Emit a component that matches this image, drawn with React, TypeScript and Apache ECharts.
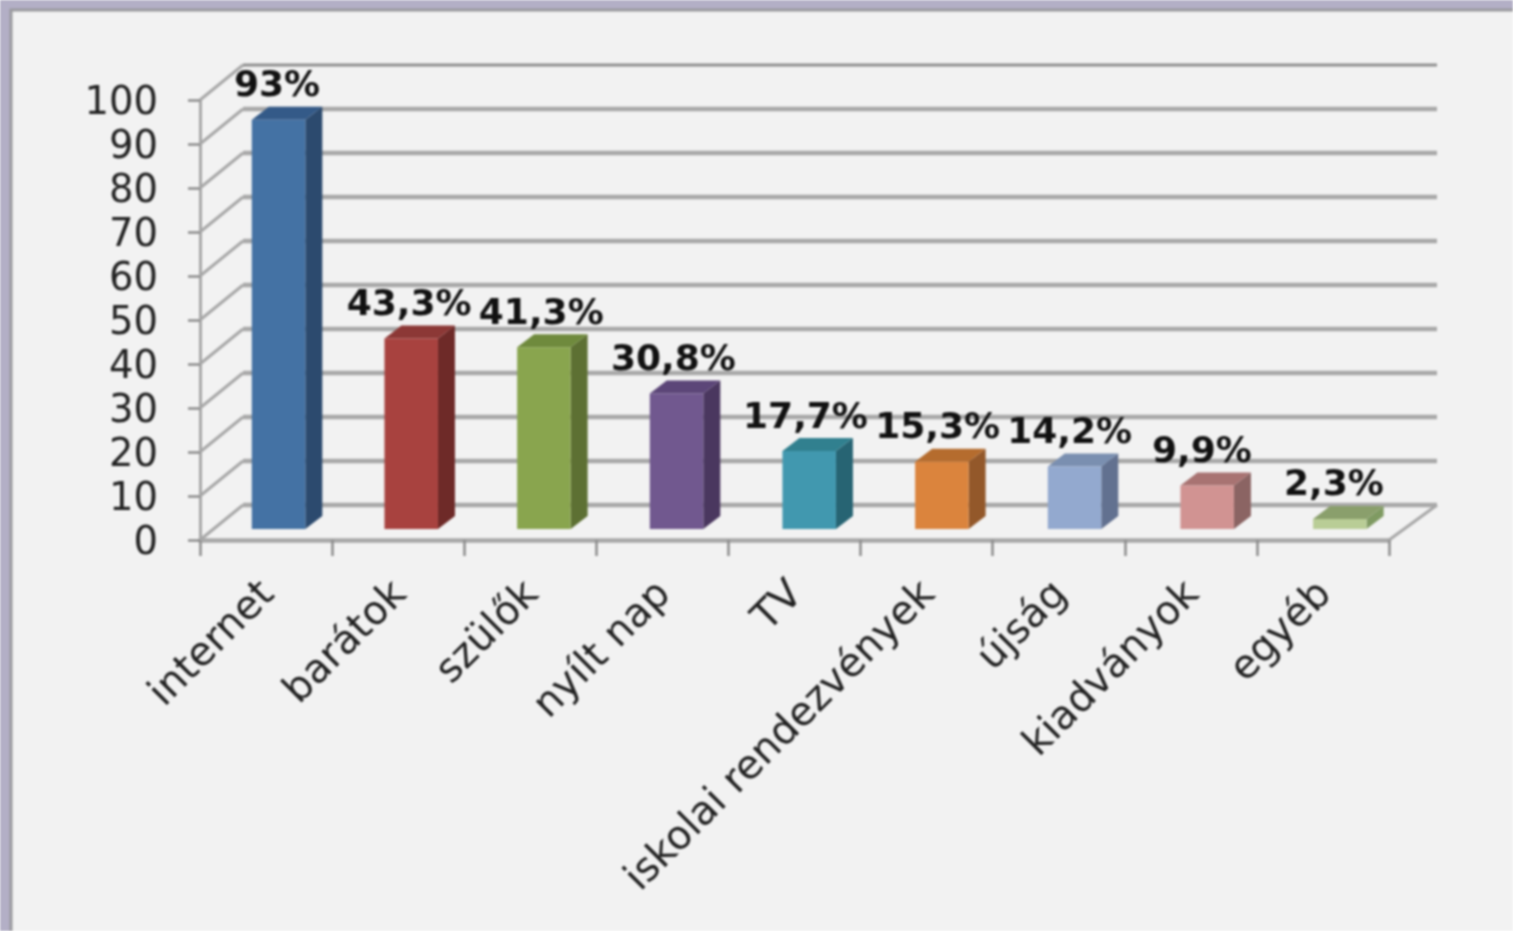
import React, { useEffect, useRef } from "react";
import * as echarts from "echarts";

const categories = ["internet", "barátok", "szülők", "nyílt nap", "TV", "iskolai rendezvények", "újság", "kiadványok", "egyéb"];
const values = [93, 43.3, 41.3, 30.8, 17.7, 15.3, 14.2, 9.9, 2.3];
const valueLabels = ["93%", "43,3%", "41,3%", "30,8%", "17,7%", "15,3%", "14,2%", "9,9%", "2,3%"];
const yTicks = [0, 10, 20, 30, 40, 50, 60, 70, 80, 90, 100];

const frontColors = ["#4472a4", "#a8423f", "#89a54e", "#71588f", "#4198af", "#db843d", "#93a9cf", "#d19392", "#b9cd96"];
const sideColors = ["#2c4a6e", "#6e2a28", "#5d7033", "#4a375f", "#276473", "#93582a", "#627190", "#8b6463", "#7f9a62"];
const topColors = ["#345a88", "#8c3836", "#6f8a3d", "#5c4678", "#31808f", "#b56c2e", "#7a8fb0", "#a87372", "#8a9f6c"];

const WALL_DX = 43;
const WALL_DY = -35;
const BAR_DX = 12.5;
const BAR_DRIFT = 0.55;
const LABEL_DX = 11;
const BAR_DY = -11;
const DEPTH_DX = 17;
const DEPTH_DY = -13;
const BAR_W = 53.5;
const GRID = "#a8a8a8";

export default function App() {
  const ref = useRef<HTMLDivElement>(null);
  useEffect(() => {
    const chart = echarts.init(ref.current!, undefined, { renderer: "svg" });
    chart.setOption({
      animation: false,
      backgroundColor: "#b3afc6",
      textStyle: { fontFamily: "DejaVu Sans" },
      graphic: [
        {
          type: "rect",
          z: -10,
          shape: { x: 11, y: 10, width: 1600, height: 1000 },
          style: { fill: "#f2f2f2", stroke: "#9a9a9e", lineWidth: 3 },
        },
      ],
      grid: { left: 200, top: 100, width: 1189, height: 440, containLabel: false },
      xAxis: {
        type: "category",
        data: categories,
        axisLine: { lineStyle: { color: GRID, width: 4.5 } },
        axisTick: { show: true, length: 16, lineStyle: { color: "#8c8c8c", width: 2.5 } },
        axisLabel: { interval: 0, rotate: 45, fontSize: 40, color: "#222222", margin: 46, fontFamily: "DejaVu Sans" },
      },
      yAxis: {
        type: "value",
        min: 0,
        max: 100,
        interval: 10,
        splitLine: { show: false },
        axisLine: { show: true, lineStyle: { color: GRID, width: 3 } },
        axisTick: { show: true, length: 12, lineStyle: { color: "#8c8c8c", width: 2.5 } },
        axisLabel: { fontSize: 38.5, color: "#222222", margin: 42, fontFamily: "DejaVu Sans" },
      },
      series: [
        {
          type: "custom",
          silent: true,
          z: 1,
          data: yTicks.map((v) => [0, v]),
          encode: { x: 0, y: 1 },
          renderItem: (_p: any, api: any) => {
            const v = api.value(1);
            const c = api.coord([0, v]);
            const w = api.size([1, 0])[0];
            const x0 = c[0] - w / 2;
            const x1 = x0 + w * categories.length;
            const y = c[1];
            const children: any[] = [
              {
                type: "line",
                shape: { x1: x0, y1: y, x2: x0 + WALL_DX, y2: y + WALL_DY },
                style: { stroke: GRID, lineWidth: 3 },
              },
              {
                type: "line",
                shape: { x1: x0 + WALL_DX, y1: y + WALL_DY, x2: x1 + 48, y2: y + WALL_DY },
                style: v === 100 ? { stroke: "#8f8f8f", lineWidth: 3 } : { stroke: GRID, lineWidth: 4.5 },
              },
            ];
            if (v === 0) {
              children.push({
                type: "line",
                shape: { x1: x1, y1: y, x2: x1 + 48, y2: y + WALL_DY },
                style: { stroke: GRID, lineWidth: 3 },
              });
            }
            return { type: "group", children };
          },
        },
        {
          type: "custom",
          silent: true,
          z: 3,
          data: values.map((v, i) => [i, v]),
          encode: { x: 0, y: 1 },
          renderItem: (_p: any, api: any) => {
            const i = api.value(0);
            const top = api.coord([i, api.value(1)]);
            const base = api.coord([i, 0]);
            const xl = top[0] + BAR_DX + BAR_DRIFT * i - BAR_W / 2;
            const xr = xl + BAR_W;
            const yt = top[1] + BAR_DY;
            const yb = base[1] + BAR_DY;
            return {
              type: "group",
              children: [
                {
                  type: "polygon",
                  shape: { points: [[xr, yt], [xr + DEPTH_DX, yt + DEPTH_DY], [xr + DEPTH_DX, yb + DEPTH_DY], [xr, yb]] },
                  style: { fill: sideColors[i] },
                },
                {
                  type: "polygon",
                  shape: { points: [[xl, yt], [xl + DEPTH_DX, yt + DEPTH_DY], [xr + DEPTH_DX, yt + DEPTH_DY], [xr, yt]] },
                  style: { fill: topColors[i] },
                },
                {
                  type: "rect",
                  shape: { x: xl, y: yt, width: BAR_W, height: yb - yt },
                  style: { fill: frontColors[i] },
                },
                {
                  type: "text",
                  style: {
                    x: top[0] + LABEL_DX,
                    y: yt + DEPTH_DY - 23,
                    text: valueLabels[i],
                    textAlign: "center",
                    textVerticalAlign: "middle",
                    font: "bold 36px 'DejaVu Sans'",
                    fill: "#111111",
                  },
                },
              ],
            };
          },
        },
      ],
    });
    return () => chart.dispose();
  }, []);
  return (
    <div
      ref={ref}
      style={{ position: "fixed", left: 0, top: 0, width: 1513, height: 931, filter: "blur(0.8px)" }}
    />
  );
}
